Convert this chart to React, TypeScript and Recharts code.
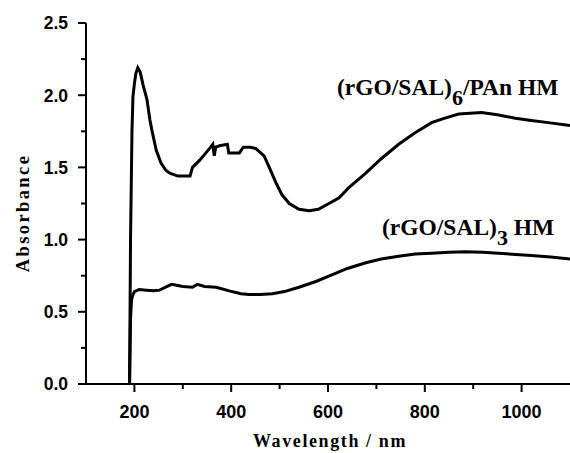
import { Line, LineChart, XAxis, YAxis } from "recharts";

// wavelength (nm) and absorbance
const hmPAnWavelength = [
  190, 192, 195, 197, 200, 203, 207, 212, 218, 226, 232, 236, 245, 255, 265,
  273, 290, 315, 320, 335, 355, 362, 365, 368, 376, 392, 395, 417, 425, 440,
  451, 468, 480, 493, 505, 520, 540, 561, 580, 602, 623, 643, 678, 710, 746,
  780, 814, 840, 870, 917, 950, 987, 1020, 1055, 1100,
];
const hmPAnAbsorbance = [
  0, 1.0, 1.75, 1.99, 2.08, 2.15, 2.19, 2.16, 2.07, 1.97, 1.83, 1.76, 1.62,
  1.53, 1.48, 1.46, 1.44, 1.44, 1.5, 1.55, 1.63, 1.66, 1.58, 1.64, 1.65, 1.66,
  1.6, 1.6, 1.64, 1.64, 1.63, 1.58, 1.49, 1.39, 1.31, 1.25, 1.21, 1.2, 1.21,
  1.25, 1.29, 1.36, 1.46, 1.56, 1.66, 1.74, 1.81, 1.84, 1.87, 1.88, 1.865,
  1.84, 1.825, 1.81, 1.79,
];

const hm3Wavelength = [
  190, 192, 194, 197, 200, 210, 225, 240, 252, 270, 277, 300, 320, 330, 345,
  369, 396, 420, 437, 460, 485, 510, 540, 575, 608, 640, 678, 710, 746, 780,
  814, 850, 884, 920, 952, 1020, 1060, 1100,
];
const hm3Absorbance = [
  0, 0.45, 0.58, 0.62, 0.64, 0.655, 0.65, 0.645, 0.65, 0.68, 0.69, 0.675,
  0.67, 0.69, 0.675, 0.67, 0.645, 0.625, 0.62, 0.62, 0.625, 0.64, 0.67, 0.71,
  0.755, 0.8, 0.84, 0.865, 0.885, 0.9, 0.905, 0.912, 0.915, 0.912, 0.905,
  0.89, 0.88, 0.865,
];

const xTicks = [200, 300, 400, 500, 600, 700, 800, 900, 1000];
const xLabelled = [200, 400, 600, 800, 1000];
const yTicks = [0, 0.25, 0.5, 0.75, 1, 1.25, 1.5, 1.75, 2, 2.25, 2.5];

const hmPAnData = hmPAnWavelength.map((w, i) => ({ w, a: hmPAnAbsorbance[i] }));
const hm3Data = hm3Wavelength.map((w, i) => ({ w, a: hm3Absorbance[i] }));

const TICK_SIZE = 8;
const TICK_MARGIN = 8;
const tickFont = "'Liberation Sans', Arial, sans-serif";
const serif = "'Liberation Serif', 'Times New Roman', serif";

const XTick = (props: any) => {
  const { x, y, payload } = props;
  const axisY = y - TICK_SIZE - TICK_MARGIN;
  const major = xLabelled.includes(payload.value);
  return (
    <g>
      <line x1={x} x2={x} y1={axisY} y2={axisY + (major ? 8 : 5)} stroke="#000" strokeWidth={2} />
      {major && (
        <text x={x} y={axisY + 34} textAnchor="middle" fontFamily={tickFont} fontWeight="bold" fontSize={18}>
          {payload.value}
        </text>
      )}
    </g>
  );
};

const YTick = (props: any) => {
  const { x, y, payload } = props;
  const axisX = x + TICK_SIZE + TICK_MARGIN;
  const major = Math.abs(payload.value * 2 - Math.round(payload.value * 2)) < 1e-6;
  return (
    <g>
      <line x1={axisX} x2={axisX - (major ? 8 : 5)} y1={y} y2={y} stroke="#000" strokeWidth={2} />
      {major && (
        <text x={axisX - 18} y={y} dy="0.36em" textAnchor="end" fontFamily={tickFont} fontWeight="bold" fontSize={17.5}>
          {payload.value.toFixed(1)}
        </text>
      )}
    </g>
  );
};

export default function App() {
  return (
    <div style={{ position: "absolute", left: 0, top: 0, width: 570, height: 453, background: "#fff" }}>
      <LineChart width={570} height={453} margin={{ top: 23, right: 0, left: 0, bottom: 0 }}>
        <XAxis
          type="number"
          dataKey="w"
          domain={[100, 1100]}
          ticks={xTicks}
          tick={<XTick />}
          tickLine={false}
          tickSize={TICK_SIZE}
          tickMargin={TICK_MARGIN}
          axisLine={{ stroke: "#000", strokeWidth: 2 }}
          height={69}
          interval={0}
        />
        <YAxis
          type="number"
          domain={[0, 2.5]}
          ticks={yTicks}
          tick={<YTick />}
          tickLine={false}
          tickSize={TICK_SIZE}
          tickMargin={TICK_MARGIN}
          axisLine={{ stroke: "#000", strokeWidth: 2 }}
          width={86}
          interval={0}
        />
        <Line data={hmPAnData} dataKey="a" stroke="#000" strokeWidth={3} dot={false} isAnimationActive={false} type="linear" />
        <Line data={hm3Data} dataKey="a" stroke="#000" strokeWidth={3} dot={false} isAnimationActive={false} type="linear" />
      </LineChart>
      <svg width={570} height={453} style={{ position: "absolute", left: 0, top: 0, pointerEvents: "none" }}>
        <text x={337} y={95} fontFamily={serif} fontWeight="bold" fontSize={23.5}>
          (rGO/SAL)
          <tspan fontSize={22} dy={10}>6</tspan>
          <tspan dy={-10}>/PAn HM</tspan>
        </text>
        <text x={382} y={235} fontFamily={serif} fontWeight="bold" fontSize={23.5}>
          (rGO/SAL)
          <tspan fontSize={22} dy={10}>3</tspan>
          <tspan dy={-10}> HM</tspan>
        </text>
        <text x={330} y={447} textAnchor="middle" fontFamily={serif} fontWeight="bold" fontSize={18} letterSpacing={1.6}>
          Wavelength / nm
        </text>
        <text
          x={23}
          y={213}
          textAnchor="middle"
          dominantBaseline="central"
          transform="rotate(-90 23 213)"
          fontFamily={serif}
          fontWeight="bold"
          fontSize={18.5}
          letterSpacing={2.4}
        >
          Absorbance
        </text>
      </svg>
    </div>
  );
}
